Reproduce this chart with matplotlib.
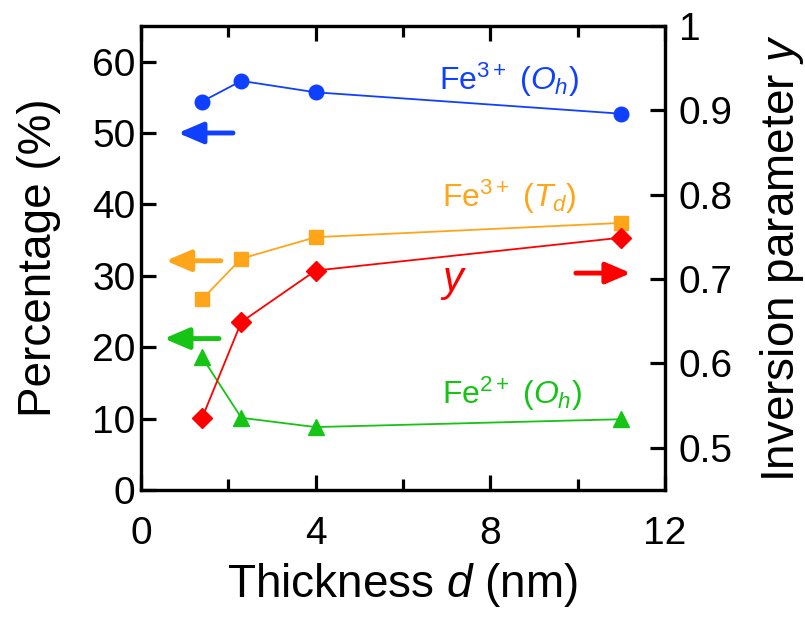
import numpy as np
import matplotlib
matplotlib.use("Agg")
import matplotlib.pyplot as plt

plt.rcParams['font.family'] = ['Liberation Sans', 'DejaVu Sans']
plt.rcParams['mathtext.fontset'] = 'custom'
plt.rcParams['mathtext.rm'] = 'Liberation Sans'
plt.rcParams['mathtext.it'] = 'Liberation Sans:italic'

# data
thickness = [1.4, 2.3, 4.0, 11.0]
fe3_oh = [54.4, 57.3, 55.7, 52.7]
fe3_td = [26.7, 32.4, 35.4, 37.4]
fe2_oh = [18.6, 10.1, 8.8, 9.9]
inversion_y = [0.535, 0.649, 0.710, 0.749]

blue = '#1040ff'
orange = '#ffa51a'
green = '#15c415'
red = '#ff0000'

fig = plt.figure(figsize=(8.05, 6.17), dpi=100)
ax = fig.add_axes([0.175, 0.206, 0.651, 0.752])
ax2 = ax.twinx()

lw = 1.3
ax.plot(thickness, fe3_oh, '-o', color=blue, lw=lw, ms=10.5)
ax.plot(thickness, fe3_td, '-s', color=orange, lw=lw, ms=10)
ax.plot(thickness, fe2_oh, '-^', color=green, lw=lw, ms=11.5)
ax2.plot(thickness, inversion_y, '-D', color=red, lw=lw, ms=10)

ax.set_xlim(0, 12)
ax.set_ylim(0, 65)
ax2.set_ylim(0.45, 1.0)

ax.set_xticks([0, 4, 8, 12])
ax.set_xticks([2, 6, 10], minor=True)
ax.set_yticks([0, 10, 20, 30, 40, 50, 60])
ax2.set_yticks([0.5, 0.6, 0.7, 0.8, 0.9, 1.0])
ax2.set_yticklabels(['0.5', '0.6', '0.7', '0.8', '0.9', '1'])

for a in (ax, ax2):
    for sp in a.spines.values():
        sp.set_linewidth(2.3)
ax.tick_params(axis='both', which='major', direction='in', length=11, width=2.3,
               labelsize=28, top=True)
ax.tick_params(axis='x', which='minor', direction='in', length=8, width=2.3, top=True)
ax.tick_params(axis='x', which='major', pad=19)
ax.tick_params(axis='y', which='major', pad=4)
ax2.tick_params(axis='y', which='major', direction='in', length=11, width=2.3,
                labelsize=28, pad=10)

ax.set_xlabel('Thickness $d$ (nm)', fontsize=33, labelpad=6)
ax.set_ylabel('Percentage (%)', fontsize=33, labelpad=22)
ax2.set_ylabel('Inversion parameter $y$', fontsize=33, labelpad=18)

# series labels
ax.text(6.83, 56.0, 'Fe$^{3+}$ ($O_h$)', color=blue, fontsize=23)
ax.text(6.89, 39.7, 'Fe$^{3+}$ ($T_d$)', color=orange, fontsize=23)
ax.text(6.89, 12.1, 'Fe$^{2+}$ ($O_h$)', color=green, fontsize=23)
ax.text(6.85, 27.9, '$y$', color=red, fontsize=30)

# axis arrows
def arrow(a, x0, x1, y, c):
    a.annotate('', xy=(x1, y), xytext=(x0, y),
               arrowprops=dict(arrowstyle='-|>,head_length=0.75,head_width=0.32',
                               lw=3.5, color=c, mutation_scale=20,
                               shrinkA=0, shrinkB=0))

arrow(ax, 2.11, 0.85, 50.0, blue)
arrow(ax, 1.83, 0.57, 32.1, orange)
arrow(ax, 1.79, 0.53, 21.2, green)
arrow(ax2, 9.96, 11.22, 0.707, red)

fig.savefig('out.png', dpi=100)
